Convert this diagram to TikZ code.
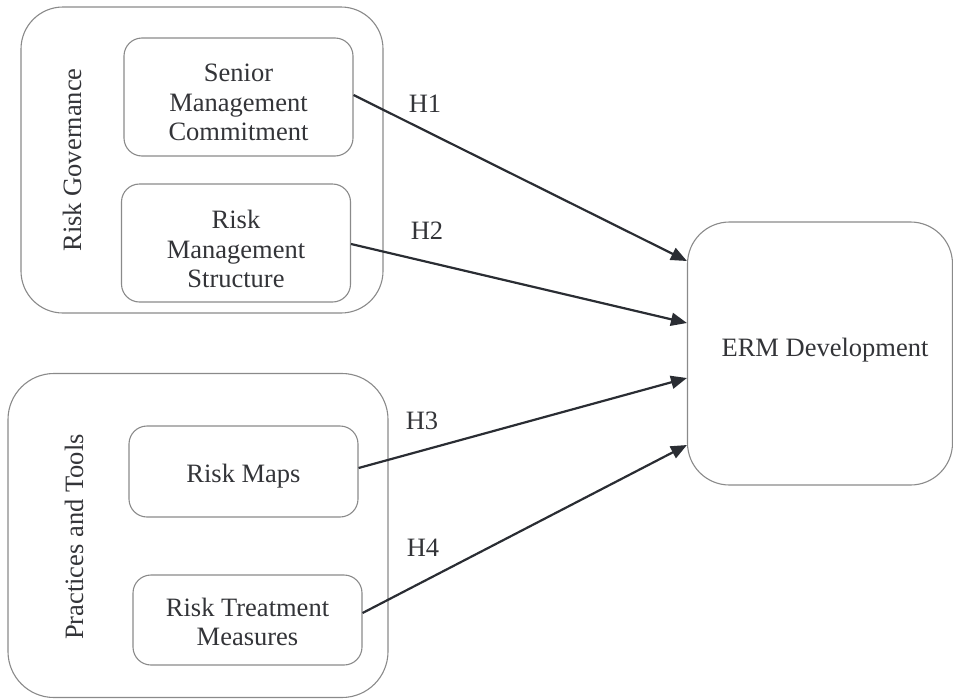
\documentclass[tikz,border=0pt]{standalone}
\usepackage{fontspec}
\setmainfont{Liberation Serif}
\usetikzlibrary{arrows.meta}
\definecolor{inktext}{HTML}{333438}
\definecolor{boxline}{HTML}{8A8A8A}
\definecolor{arrowink}{HTML}{2A2D33}
\begin{document}
\begin{tikzpicture}[x=1pt,y=-1pt,
  font=\fontsize{26.5}{29.5}\selectfont,
  every node/.style={text=inktext},
  group/.style={draw=boxline, line width=1.1pt, rounded corners=42pt, inner sep=0pt},
  factor/.style={draw=boxline, line width=1.1pt, rounded corners=18pt,
                 inner sep=0pt, minimum width=229pt},
  caption/.style={align=center, inner sep=0pt},
  link/.style={draw=arrowink, line width=2.2pt, -{Triangle[length=16pt,width=13pt]}},
  hyp/.style={inner sep=0pt}]
\useasboundingbox (0,0) rectangle (953,699);

% construct groups
\node[group, minimum width=362pt, minimum height=306pt] (gov) at (202,160) {};
\node[group, rounded corners=46pt, minimum width=380pt, minimum height=324pt] (prac) at (198,535.5) {};
\node[rotate=90] (govlabel) at (72,160) {Risk Governance};
\node[rotate=90] (praclabel) at (74,537) {Practices and Tools};

% factors
\node[factor, minimum height=118pt] (smc) at (238.5,97) {};
\node[factor, minimum height=118pt] (rms) at (236,243) {};
\node[factor, minimum height=91pt] (rmap) at (243.5,471.5) {};
\node[factor, minimum height=90pt] (rtm) at (247.5,620) {};
\node[caption] (smctext) at (238.5,102.5) {Senior\\Management\\Commitment};
\node[caption] (rmstext) at (236,249) {Risk\\Management\\Structure};
\node[caption] (rmaptext) at (243.5,476.5) {Risk Maps};
\node[caption] (rtmtext) at (247.5,622) {Risk Treatment\\Measures};

% outcome
\node[group, minimum width=265pt, minimum height=263pt] (erm) at (820,353.5) {};
\node (ermtext) at (825,350) {ERM Development};

% hypotheses
\draw[link] ([yshift=2pt]smc.east) -- ([yshift=92.5pt]erm.west);
\draw[link] ([yshift=-1pt]rms.east) -- ([yshift=30.5pt]erm.west);
\draw[link] ([yshift=3.5pt]rmap.east) -- ([yshift=-24.5pt]erm.west);
\draw[link] ([yshift=7pt]rtm.east) -- ([yshift=-91.5pt]erm.west);

\node[hyp] (h1) at (425,104) {H1};
\node[hyp] (h2) at (427,231) {H2};
\node[hyp] (h3) at (422,421) {H3};
\node[hyp] (h4) at (423,548) {H4};
\end{tikzpicture}
\end{document}
